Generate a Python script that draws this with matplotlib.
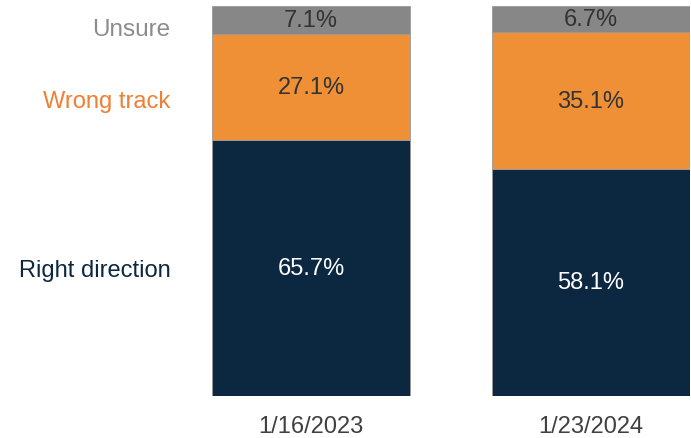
import matplotlib.pyplot as plt

plt.rcParams['font.family'] = ['Liberation Sans', 'DejaVu Sans']

dates = ['1/16/2023', '1/23/2024']
right_direction = [65.7, 58.1]
wrong_track = [27.1, 35.1]
unsure = [7.1, 6.7]

navy = '#0C2841'
orange = '#EF9036'
gray = '#878787'

fig = plt.figure(figsize=(6.91, 4.39), dpi=100)
ax = fig.add_axes([212 / 691, 1 - 396.5 / 439, 478 / 691, 391.5 / 439])

x = [0, 1]
w = 0.707
bottom2 = [a + b for a, b in zip(right_direction, wrong_track)]

ax.bar(x, right_direction, w, color=navy, edgecolor='#9A9A9A', linewidth=0.6)
ax.bar(x, wrong_track, w, bottom=right_direction, color=orange,
       edgecolor='#9A9A9A', linewidth=0.6)
ax.bar(x, unsure, w, bottom=bottom2, color=gray, edgecolor='#9A9A9A', linewidth=0.6)

# value labels in the middle of each piece
for i in x:
    ax.text(i, right_direction[i] / 2, '%.1f%%' % right_direction[i],
            ha='center', va='center', color='white', fontsize=17)
    ax.text(i, right_direction[i] + wrong_track[i] / 2, '%.1f%%' % wrong_track[i],
            ha='center', va='center', color='#333333', fontsize=17)
    ax.text(i, bottom2[i] + unsure[i] / 2, '%.1f%%' % unsure[i],
            ha='center', va='center', color='#333333', fontsize=17)

ax.set_xlim(-w / 2, 1 + w / 2)
ax.set_ylim(0, 100.5)
ax.set_xticks(x)
ax.set_xticklabels(dates, fontsize=17, color='#404040')
ax.tick_params(axis='x', length=0, pad=14)
ax.set_yticks([])
for s in ax.spines.values():
    s.set_visible(False)

fig.text(170 / 691, 1 - 36 / 439, 'Unsure', ha='right', va='baseline',
         color='#8C8C8C', fontsize=17.5)
fig.text(170 / 691, 1 - 108 / 439, 'Wrong track', ha='right', va='baseline',
         color='#EE7F33', fontsize=17)
fig.text(171 / 691, 1 - 277 / 439, 'Right direction', ha='right', va='baseline',
         color=navy, fontsize=17)

fig.savefig('out.png', dpi=100)
